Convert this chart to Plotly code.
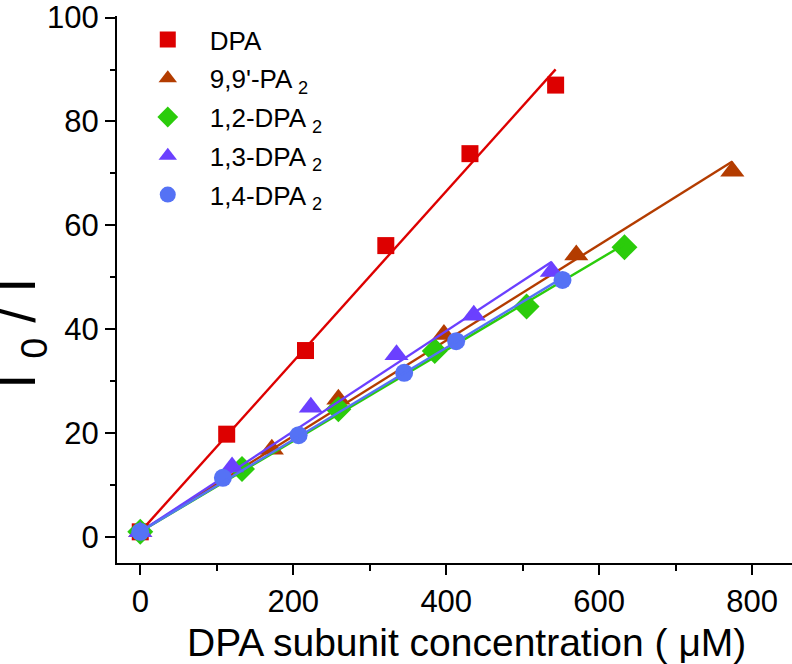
import numpy as np
import plotly.graph_objects as go

# ---- data ----
names = ["DPA", "9,9'-PA <sub>2</sub>", "1,2-DPA <sub>2</sub>", "1,3-DPA <sub>2</sub>", "1,4-DPA <sub>2</sub>"]

dpa_x = [0, 113, 216, 321, 431, 543]
dpa_y = [1, 19.8, 35.9, 56.1, 73.8, 87.0]

pa99_x = [0, 172, 259, 397, 570, 774]
pa99_y = [1, 16.9, 26.5, 39.0, 54.3, 70.4]

dpa12_x = [0, 133, 259, 385, 505, 633]
dpa12_y = [1, 13.1, 24.6, 35.8, 44.4, 55.8]

dpa13_x = [0, 120, 223, 335, 436, 538]
dpa13_y = [1, 13.5, 25.0, 35.1, 42.7, 51.1]

dpa14_x = [0, 108, 207, 345, 413, 552]
dpa14_y = [1, 11.4, 19.6, 31.6, 37.7, 49.5]

x_ticks = [0, 200, 400, 600, 800]
y_ticks = [0, 20, 40, 60, 80, 100]

xs = [dpa_x, pa99_x, dpa12_x, dpa13_x, dpa14_x]
ys = [dpa_y, pa99_y, dpa12_y, dpa13_y, dpa14_y]

colors = ["#dd0000", "#b33c00", "#2bcc0b", "#6b40ff", "#5572f5"]
symbols = ["square", "triangle-up", "diamond", "triangle-up", "circle"]
sizes = [17, 21, 20, 21, 18]

FONT = "Liberation Sans, Arial, sans-serif"

fig = go.Figure()
for i in range(5):
    x = np.array(xs[i], dtype=float)
    y = np.array(ys[i], dtype=float)
    # Stern-Volmer linear fit with intercept 1
    k = np.sum(x * (y - 1)) / np.sum(x * x)
    fx = np.array([0.0, x.max()])
    fy = 1 + k * fx
    fig.add_trace(go.Scatter(
        x=x, y=y, mode="markers", name=names[i], legendgroup=f"g{i}",
        marker=dict(symbol=symbols[i], size=sizes[i], color=colors[i], line=dict(width=0)),
    ))
    fig.add_trace(go.Scatter(
        x=fx, y=fy, mode="lines", showlegend=False, legendgroup=f"g{i}",
        line=dict(color=colors[i], width=2.4), hoverinfo="skip",
    ))

axis_common = dict(
    showline=True, linewidth=2, linecolor="black", mirror=False,
    ticks="outside", ticklen=10, tickwidth=2, tickcolor="black",
    showgrid=False, zeroline=False, tickmode="array", ticklabeloverflow="allow",
    tickfont=dict(family=FONT, size=31, color="black"),
)

fig.update_xaxes(range=[-30.4, 852], tickvals=x_ticks, ticktext=[str(v) for v in x_ticks],
                 minor=dict(dtick=100, tick0=0, ticks="outside", ticklen=6, tickwidth=2, tickcolor="black"),
                 **axis_common)
fig.update_yaxes(range=[-5, 100.3], tickvals=y_ticks, ticktext=[str(v) for v in y_ticks],
                 minor=dict(dtick=10, tick0=0, ticks="outside", ticklen=5, tickwidth=2, tickcolor="black"),
                 **axis_common)

fig.add_annotation(text="DPA subunit concentration ( \u03bcM)", xref="paper", yref="paper",
                   x=0.518, y=-0.146, xanchor="center", yanchor="middle", showarrow=False,
                   font=dict(family=FONT, size=39, color="black"))
fig.add_annotation(text="I <sub>0</sub> / I", xref="paper", yref="paper",
                   x=-0.1437, y=0.419, xanchor="center", yanchor="middle", showarrow=False,
                   textangle=-90, font=dict(family=FONT, size=54, color="black"))

fig.update_layout(
    width=792, height=664,
    margin=dict(l=117, r=0, t=14, b=101),
    plot_bgcolor="white", paper_bgcolor="white",
    showlegend=True,
    legend=dict(x=0.013, y=1.0, xanchor="left", yanchor="top",
                font=dict(family=FONT, size=26, color="black"),
                bgcolor="rgba(0,0,0,0)", tracegroupgap=2, itemsizing="trace",
                itemwidth=74),
)

fig.write_html("out.html", config={"displayModeBar": False},
               post_script="document.body.style.margin='0';document.body.style.padding='0';")
